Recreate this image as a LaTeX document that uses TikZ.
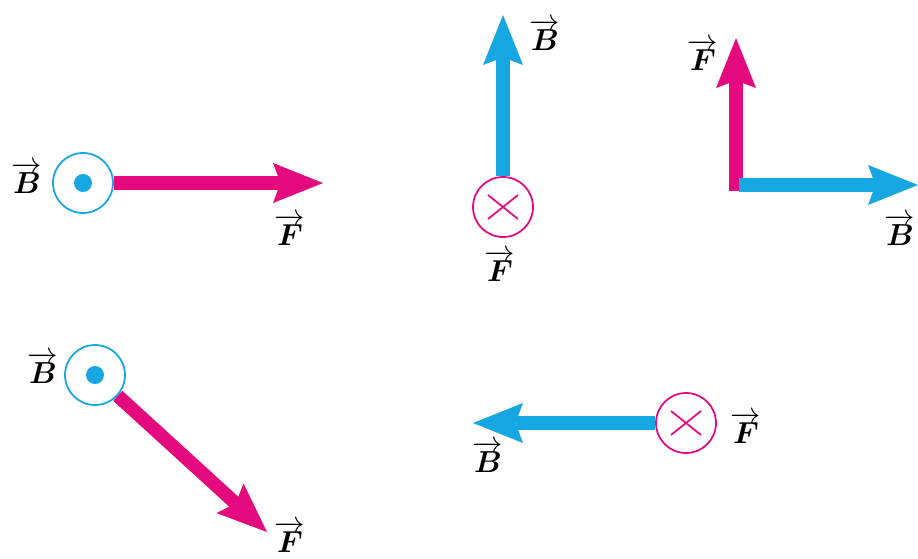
\documentclass[tikz,border=0pt]{standalone}
\usepackage{amsmath,bm}
\usetikzlibrary{arrows.meta}
\definecolor{fmag}{RGB}{229,9,127}
\definecolor{bblue}{RGB}{22,166,226}
\begin{document}
\begin{tikzpicture}[x=0.02cm,y=-0.02cm, font=\fontsize{19}{21}\selectfont, line join=round,
	vec/.style={line width=0.27cm,-{Stealth[length=1cm,width=0.8cm,inset=0.15cm,line width=0pt]}},
	outof/.style={circle,draw=bblue,line width=1pt,minimum size=1.2cm,inner sep=0pt},
	into/.style={circle,draw=fmag,line width=1pt,minimum size=1.2cm,inner sep=0pt},
	lab/.style={inner sep=0pt}]
	\useasboundingbox (0,0) rectangle (918,558);
	% B out of the page, F to the right
	\node[outof] (c1) at (83,183) {};
	\fill[bblue] (c1.center) circle (0.18cm);
	\coordinate (t1) at (323,183);
	\draw[vec,fmag] (c1) -- (t1);
	\node[lab] (b1) at (27,178) {$\overrightarrow{\bm B}$};
	\node[lab] (f1) at (290,230) {$\overrightarrow{\bm F}$};
	% F into the page, B up
	\node[into] (c2) at (503,207) {};
	\draw[fmag,line width=1pt] ([shift={(-15,-12)}]c2.center) -- ([shift={(15,12)}]c2.center)
		([shift={(-15,12)}]c2.center) -- ([shift={(15,-12)}]c2.center);
	\coordinate (t2) at (503,15);
	\draw[vec,bblue] (c2) -- (t2);
	\node[lab] (b2) at (545,35) {$\overrightarrow{\bm B}$};
	\node[lab] (f2) at (500,266) {$\overrightarrow{\bm F}$};
	% F up, B to the right
	\coordinate (o3) at (736,185);
	\coordinate (t3f) at (736,38);
	\coordinate (t3b) at (918,185);
	\draw[vec,fmag] ([shift={(0,6)}]o3) -- (t3f);
	\draw[vec,bblue] ([shift={(3,0)}]o3) -- (t3b);
	\node[lab] (f3) at (703,55) {$\overrightarrow{\bm F}$};
	\node[lab] (b3) at (900,230) {$\overrightarrow{\bm B}$};
	% B out of the page, F down-right
	\node[outof] (c4) at (95,375) {};
	\fill[bblue] (c4.center) circle (0.18cm);
	\coordinate (t4) at (267,532);
	\draw[vec,fmag] (c4) -- (t4);
	\node[lab] (b4) at (43,368) {$\overrightarrow{\bm B}$};
	\node[lab] (f4) at (290,537) {$\overrightarrow{\bm F}$};
	% F into the page, B to the left
	\node[into] (c5) at (686,423) {};
	\draw[fmag,line width=1pt] ([shift={(-15,-12)}]c5.center) -- ([shift={(15,12)}]c5.center)
		([shift={(-15,12)}]c5.center) -- ([shift={(15,-12)}]c5.center);
	\coordinate (t5) at (473,423);
	\draw[vec,bblue] (c5) -- (t5);
	\node[lab] (f5) at (746,428) {$\overrightarrow{\bm F}$};
	\node[lab] (b5) at (488,457) {$\overrightarrow{\bm B}$};
\end{tikzpicture}
\end{document}
